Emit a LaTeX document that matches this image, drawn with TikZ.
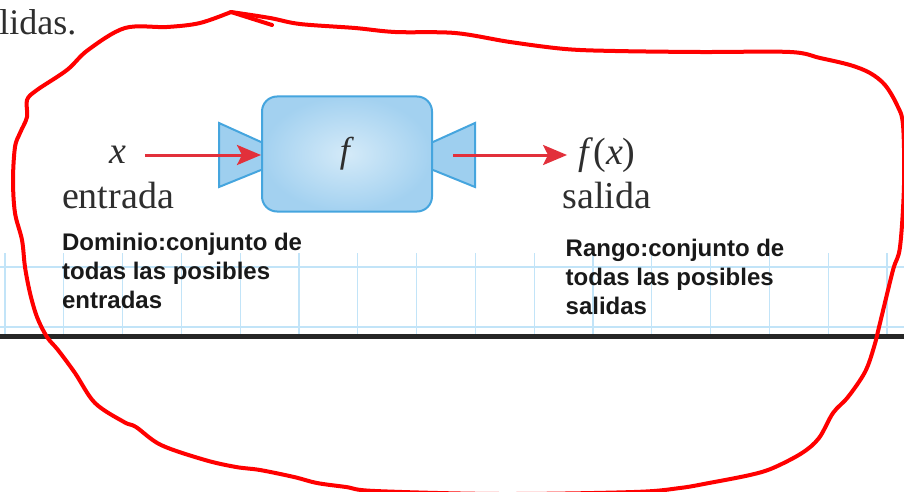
\documentclass[tikz,border=0pt]{standalone}
\usepackage{fontspec}
\setmainfont{Liberation Serif}
\setsansfont{Liberation Sans}
\usetikzlibrary{arrows.meta, positioning, calc, backgrounds}
\definecolor{boxin}{HTML}{D4EAF8}
\definecolor{boxout}{HTML}{A3D1F0}
\definecolor{boxline}{HTML}{45A5DE}
\definecolor{funfill}{HTML}{9ECFEF}
\definecolor{arrowred}{HTML}{E2303B}
\definecolor{gridblue}{HTML}{C2E4F8}
\definecolor{inkgray}{HTML}{2E2E2E}

\begin{document}
\begin{tikzpicture}[
    x=0.5pt, y=-0.5pt,
    machine/.style={rectangle, draw=boxline, line width=1pt, rounded corners=7.5pt, minimum width=85pt, minimum height=57.5pt, inner color=boxin, outer color=boxout},
    funnel/.style={fill=funfill, draw=boxline, line width=1pt},
    word/.style={font=\fontsize{19}{22}\selectfont, text=inkgray, inner sep=0pt},
    note/.style={font=\sffamily\bfseries\fontsize{12}{14.5}\selectfont, text=black!90, align=left, inner sep=0pt},
    arrow/.style={-{Stealth[length=12pt, width=10pt, inset=2.5pt]}, draw=arrowred, line width=1.5pt},
    gridline/.style={draw=gridblue, line width=0.6pt},
    pen/.style={draw=red, line width=2pt, line cap=round, line join=round}
]
    \useasboundingbox (0,0) rectangle (904,492);
    \clip (0,0) rectangle (904,492);

    \foreach \gx in {0,...,15}
        \draw[gridline] (5+58.8*\gx,253) -- (5+58.8*\gx,337);
    \draw[gridline, line width=1pt] (0,267) -- (904,267);
    \draw[gridline, line width=1pt] (0,327) -- (904,327);
    \draw[black!85, line width=2.5pt] (0,336.5) -- (904,336.5);

    \node[word, font=\fontsize{18}{20}\selectfont, anchor=base west] (lid) at (-1,35) {lidas.};

    \node[machine] (box) at (347,154) {};
    \node[word, font=\fontsize{18}{20}\selectfont] (fn) at (box.center) {\textit{f}};
    \begin{scope}[on background layer]
        \filldraw[funnel] ($(box.west)+(0,-12)$) -- ++(-42,-19) -- ++(0,64) -- ++(42,-17);
        \filldraw[funnel] ($(box.east)+(0,-12)$) -- ++(42,-19) -- ++(0,64) -- ++(-42,-17);
    \end{scope}

    \node[word] (xin) at (118,155) {\textit{x}};
    \node[word, below=22.25pt of xin.base, anchor=base] (ent) {entrada};
    \node[word] (fx) at (607,155) {\textit{f}(\textit{x})};
    \node[word, below=22.25pt of fx.base, anchor=base] (sal) {salida};

    \node[note, below=12.35pt of ent.base west, anchor=north west] (dom) {Dominio:conjunto de\\todas las posibles\\entradas};
    \node[note, below=15pt of sal.base west, anchor=north west, xshift=1.5pt] (ran) {Rango:conjunto de\\todas las posibles\\salidas};

    \coordinate (outp) at ($(box.east |- xin)+(20,0)$);
    \draw[arrow, shorten <=9pt] (xin) -- (xin -| box.west);
    \draw[arrow, shorten >=5.5pt] (outp) -- (outp -| fx.west);

    \draw[pen] (231,12) -- (272,25);
    \draw[pen] plot[smooth, tension=0.55] coordinates {(231,12) (270,18) (300,24) (355,28) (395,32) (455,33) (510,42) (565,49) (615,51) (700,52) (790,52) (820,58) (850,65) (870,73) (885,85) (897,105) (903,125) (904,185) (900,247) (893,270) (880,323) (874,347) (865,372) (848,397) (833,413) (819,438) (802,453) (773,468) (750,475) (709,483) (680,488) (634,492) (500,494) (375,491) (346,487) (317,483) (294,477) (260,470) (236,467) (205,460) (161,445) (136,427) (124,422) (95,403) (75,373) (58,350) (47,337) (37,317) (30,293) (25,267) (22,240) (15,213) (13,180) (15,147) (20,133) (27,117) (27,100) (37,90) (67,70) (88,50) (125,28) (167,27) (200,23) (231,12)};
\end{tikzpicture}
\end{document}
